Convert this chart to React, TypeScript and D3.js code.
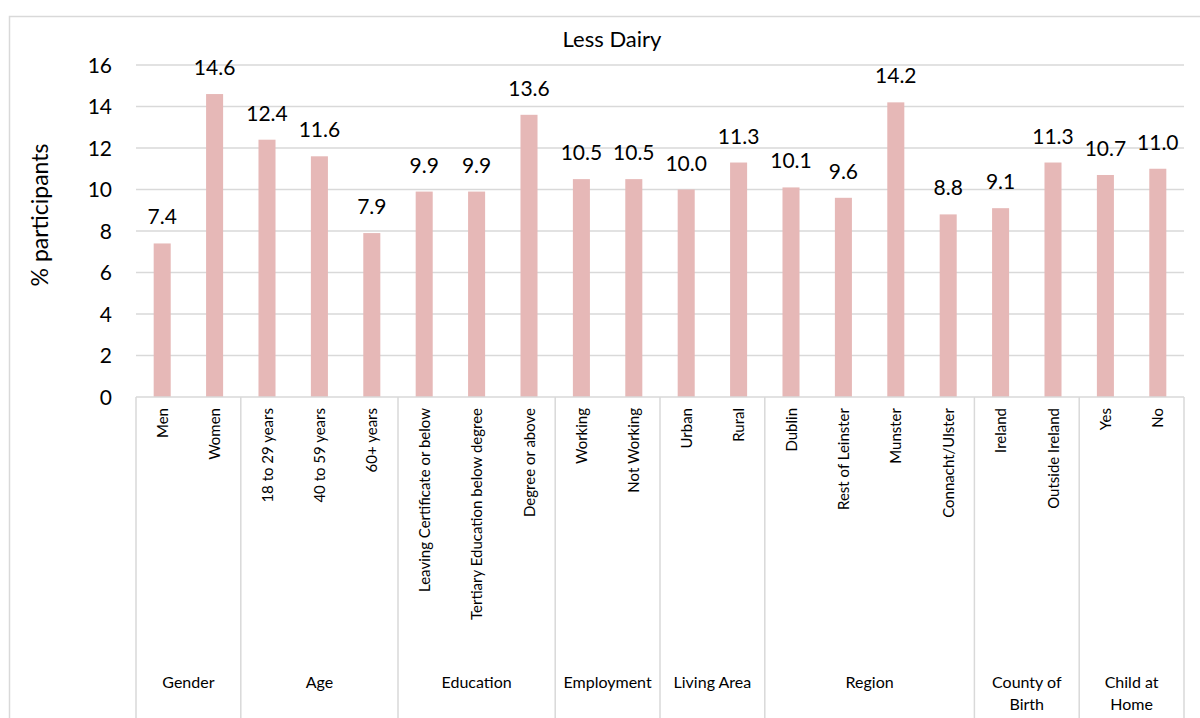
import React from "react";
import * as d3 from "d3";

const categories = [
  "Men", "Women",
  "18 to 29 years", "40 to 59 years", "60+ years",
  "Leaving Certificate or below", "Tertiary Education below degree", "Degree or above",
  "Working", "Not Working",
  "Urban", "Rural",
  "Dublin", "Rest of Leinster", "Munster", "Connacht/Ulster",
  "Ireland", "Outside Ireland",
  "Yes", "No",
];
const values = [7.4, 14.6, 12.4, 11.6, 7.9, 9.9, 9.9, 13.6, 10.5, 10.5, 10.0, 11.3, 10.1, 9.6, 14.2, 8.8, 9.1, 11.3, 10.7, 11.0];
const groups = ["Gender", "Age", "Education", "Employment", "Living Area", "Region", "County of Birth", "Child at Home"];
const groupSizes = [2, 3, 3, 2, 2, 4, 2, 2];
const groupLabelLines = [["Gender"], ["Age"], ["Education"], ["Employment"], ["Living Area"], ["Region"], ["County of", "Birth"], ["Child at", "Home"]];
const yTicks = [0, 2, 4, 6, 8, 10, 12, 14, 16];

const W = 1200, H = 718;
const left = 136, right = 1184, top = 65, bottom = 397;
const font = "Lato, Carlito, Calibri, sans-serif";

export default function App() {
  const x = d3.scaleBand<string>().domain(categories).range([left, right]).paddingInner(0.675).paddingOuter(0.3375);
  const y = d3.scaleLinear().domain([0, 16]).range([bottom, top]);
  const step = x.step();
  let acc = 0;
  const groupBounds = groupSizes.map((s) => {
    const start = acc;
    acc += s;
    return { x0: left + start * step, x1: left + acc * step };
  });
  const grid = "#d9d9d9";
  return (
    <svg width={W} height={H} style={{ position: "absolute", left: 0, top: 0 }} fontFamily={font}>
      <rect x={0} y={0} width={W} height={H} fill="#fff" />
      <rect x={9.5} y={16.5} width={1200} height={720} fill="#fff" stroke={grid} strokeWidth={1.5} />
      <text x={612} y={47} textAnchor="middle" fontSize={22} fill="#000">Less Dairy</text>
      {yTicks.map((t) => (
        <g key={t}>
          {t > 0 && <line x1={left} x2={right} y1={y(t)} y2={y(t)} stroke={grid} strokeWidth={1.5} />}
          <text x={112} y={y(t) + 7.5} textAnchor="end" fontSize={21} fill="#000">{t}</text>
        </g>
      ))}
      <text transform={`translate(48,${215}) rotate(-90)`} textAnchor="middle" fontSize={23} fill="#000">% participants</text>
      {categories.map((c, i) => (
        <g key={c}>
          <rect x={x(c)} y={y(values[i])} width={x.bandwidth()} height={bottom - y(values[i])} fill="#e6b8b7" />
          <text x={x(c)! + x.bandwidth() / 2} y={y(values[i]) - 19} textAnchor="middle" fontSize={21} fill="#000">{values[i].toFixed(1)}</text>
          <text transform={`translate(${x(c)! + x.bandwidth() / 2 + 5.5},408) rotate(-90)`} textAnchor="end" fontSize={15} fill="#000">{c}</text>
        </g>
      ))}
      <line x1={left} x2={right} y1={bottom} y2={bottom} stroke={grid} strokeWidth={1.5} />
      {groupBounds.map((g, i) => (
        <g key={groups[i]}>
          <line x1={g.x0} x2={g.x0} y1={bottom} y2={H} stroke={grid} strokeWidth={1.5} />
          {i === groupBounds.length - 1 && <line x1={g.x1} x2={g.x1} y1={bottom} y2={H} stroke={grid} strokeWidth={1.5} />}
          {groupLabelLines[i].map((ln, j) => (
            <text key={j} x={(g.x0 + g.x1) / 2} y={688 + j * 22} textAnchor="middle" fontSize={16} fill="#000">{ln}</text>
          ))}
        </g>
      ))}
    </svg>
  );
}
